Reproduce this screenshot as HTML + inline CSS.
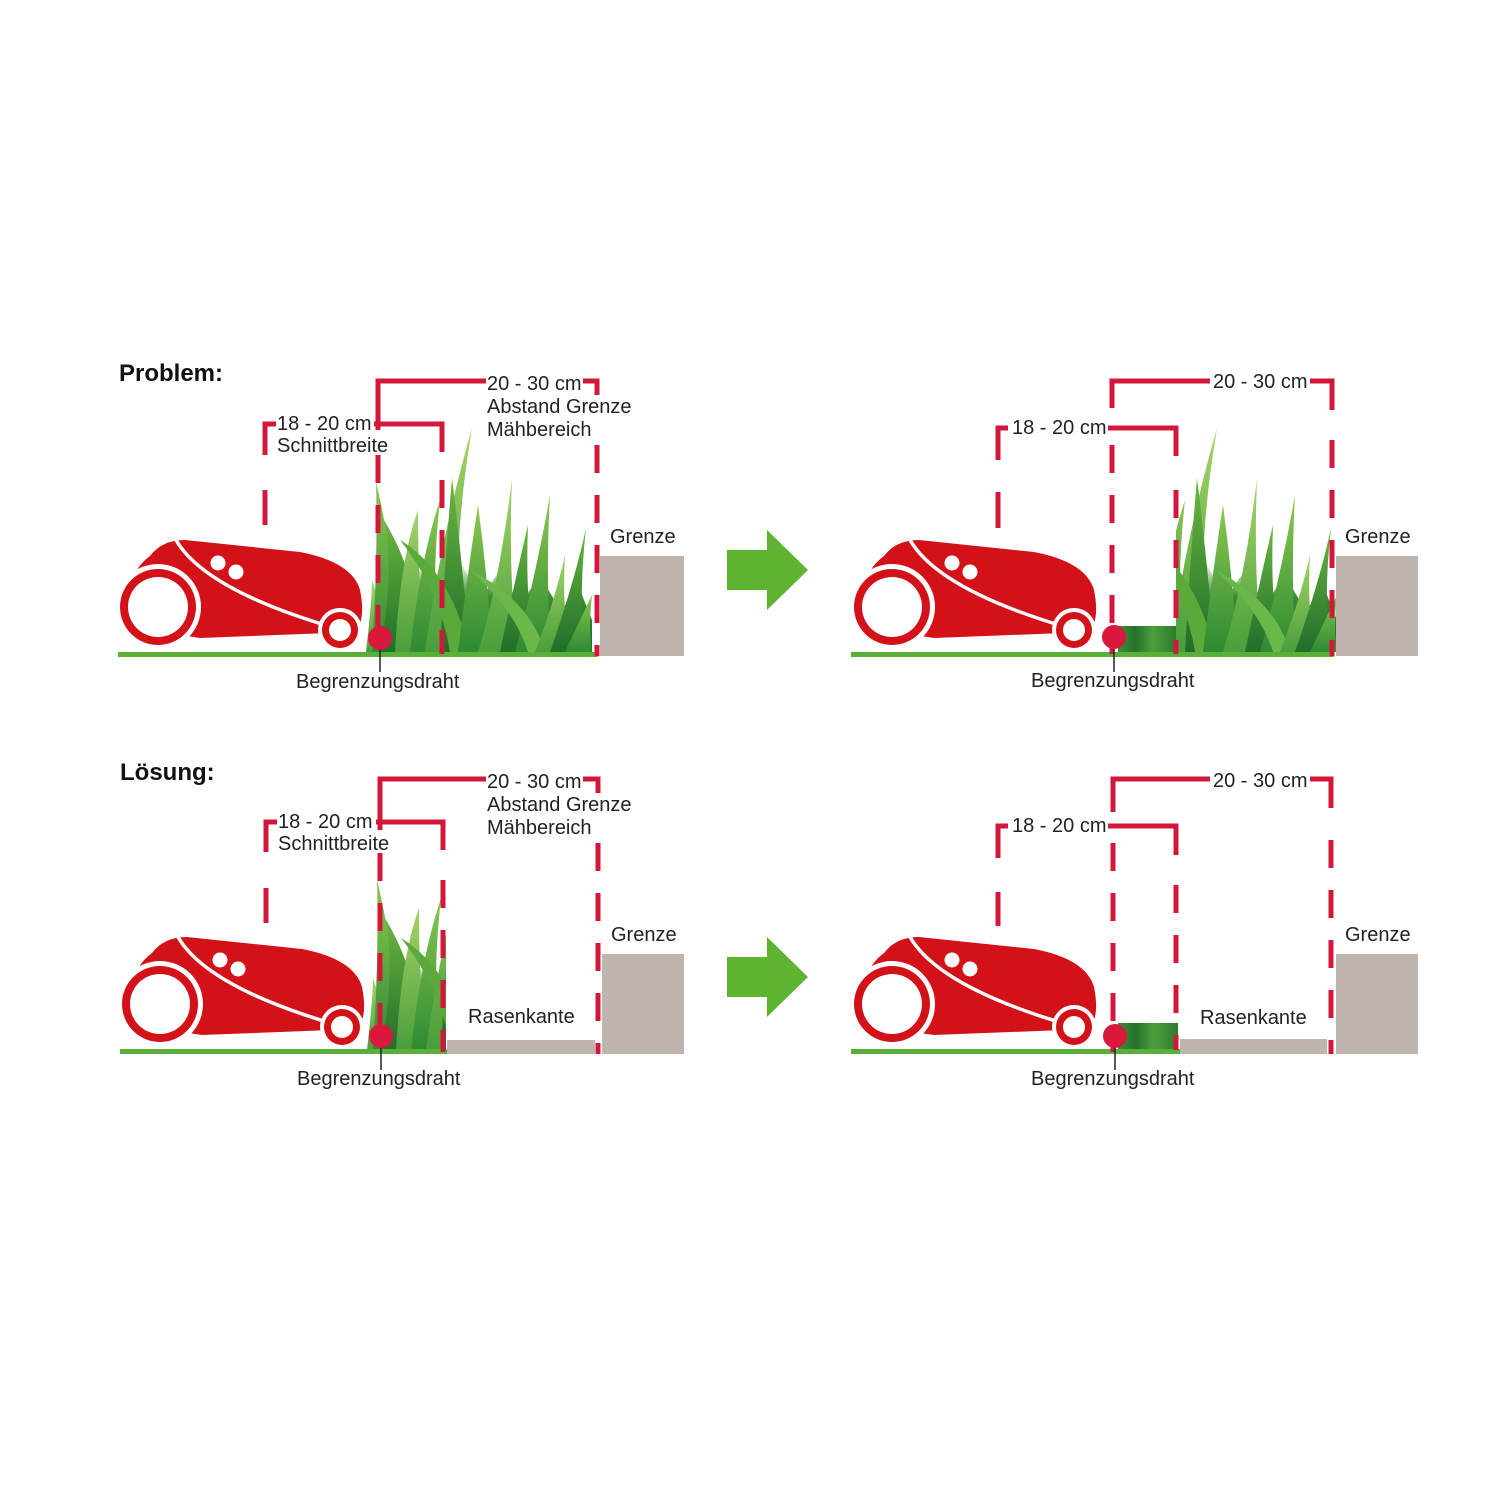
<!DOCTYPE html>
<html><head><meta charset="utf-8"><style>
html,body{margin:0;padding:0;background:#fff;}
svg{display:block;}
text{font-family:"Liberation Sans",sans-serif;font-size:20px;fill:#222;}
.t{font-weight:bold;font-size:24px;fill:#111;}
</style></head><body>
<svg width="1500" height="1500" viewBox="0 0 1500 1500" xmlns="http://www.w3.org/2000/svg">
<defs>
<linearGradient id="gA" x1="0" y1="0" x2="0" y2="1"><stop offset="0" stop-color="#8cc850"/><stop offset="1" stop-color="#2e8a32"/></linearGradient>
<linearGradient id="gB" x1="0" y1="0" x2="0" y2="1"><stop offset="0" stop-color="#6bb640"/><stop offset="1" stop-color="#1f6e2a"/></linearGradient>
<linearGradient id="gC" x1="0" y1="0" x2="0" y2="1"><stop offset="0" stop-color="#a6d468"/><stop offset="1" stop-color="#4a9e3a"/></linearGradient>
<linearGradient id="gD" x1="0" y1="0" x2="0" y2="1"><stop offset="0" stop-color="#4a9e3a" stop-opacity="0"/><stop offset="0.4" stop-color="#3a8a34"/><stop offset="1" stop-color="#236b2a"/></linearGradient>
<linearGradient id="gS" x1="0" y1="0" x2="1" y2="0"><stop offset="0" stop-color="#3d8f35"/><stop offset="0.3" stop-color="#27712b"/><stop offset="0.6" stop-color="#4c9e3c"/><stop offset="1" stop-color="#2a7a2e"/></linearGradient>
<g id="mower">
<path d="M150,556 Q162,540 185,540 L300,552 Q352,562 360,590 Q366,620 355,632 L200,638 Q150,632 132,600 Q128,572 150,556 Z" fill="#d31118"/>
<path d="M176,540 Q205,590 335,628" stroke="#fff" stroke-width="3.5" fill="none"/>
<circle cx="218" cy="563" r="7.5" fill="#fff"/>
<circle cx="236" cy="572" r="7.5" fill="#fff"/>
<circle cx="158" cy="607" r="43" fill="#fff"/>
<circle cx="158" cy="607" r="38" fill="#d31118"/>
<circle cx="158" cy="607" r="30" fill="#fff"/>
<circle cx="340" cy="630" r="22" fill="#fff"/>
<circle cx="340" cy="630" r="18" fill="#d31118"/>
<circle cx="340" cy="630" r="11" fill="#fff"/>
</g>
<g id="grass">
<path d="M370,652 L370,620 L385,580 L400,610 L420,570 L440,600 L460,560 L480,600 L500,570 L520,605 L540,575 L560,610 L580,590 L592,620 L592,652Z" fill="url(#gD)"/>
<path d="M366,652 Q372,600 372,580 Q385,620 392,652Z" fill="url(#gC)"/>
<path d="M372,652 Q378,560 376,482 Q395,560 398,652Z" fill="url(#gA)"/>
<path d="M380,652 Q395,570 384,520 Q420,580 420,652Z" fill="url(#gB)"/>
<path d="M395,652 Q400,560 418,510 Q418,590 425,652Z" fill="url(#gC)"/>
<path d="M410,652 Q420,560 440,500 Q430,590 440,652Z" fill="url(#gA)"/>
<path d="M425,652 Q440,540 472,428 Q450,560 462,652Z" fill="url(#gC)"/>
<path d="M440,652 Q445,560 452,478 Q462,560 470,652Z" fill="url(#gB)"/>
<path d="M400,540 Q450,570 470,652 L450,652 Q440,590 400,540Z" fill="#5aa93a"/>
<path d="M458,652 Q468,570 478,505 Q488,580 492,652Z" fill="url(#gA)"/>
<path d="M478,652 Q500,580 512,478 Q508,580 518,652Z" fill="url(#gC)"/>
<path d="M500,652 Q515,580 528,525 Q525,600 535,652Z" fill="url(#gB)"/>
<path d="M515,652 Q535,580 550,495 Q545,590 552,652Z" fill="url(#gA)"/>
<path d="M470,570 Q530,600 545,652 L528,652 Q515,610 470,570Z" fill="#6ab84a"/>
<path d="M535,652 Q555,600 565,555 Q562,610 570,652Z" fill="url(#gC)"/>
<path d="M550,652 Q575,580 586,528 Q578,600 585,652Z" fill="url(#gB)"/>
<path d="M565,652 Q580,620 592,595 Q588,630 592,652Z" fill="url(#gA)"/>
</g>
<g id="arrow"><path d="M727,550 L767,550 L767,530 L808,570 L767,610 L767,590 L727,590 Z" fill="#5fb331"/></g>
<clipPath id="cTR"><rect x="1176" y="400" width="160" height="260"/></clipPath>
<clipPath id="cBL"><rect x="366" y="800" width="80" height="260"/></clipPath>
</defs>

<text class="t" x="119" y="381">Problem:</text>
<text class="t" x="120" y="780">Lösung:</text>

<!-- TL -->
<use href="#grass"/>
<rect x="118" y="652" width="480" height="5" fill="#5aae3a"/>
<use href="#mower"/>
<rect x="600" y="556" width="84" height="100" fill="#c0b5ae"/>
<g stroke="#d3173a" stroke-width="5" fill="none">
<path d="M265,455 L265,424 L276,424 M374,424 L442,424 L442,452"/>
<path d="M265,490 L265,525"/>
<path d="M442,480 L442,654" stroke-dasharray="28 22"/>
<path d="M378,430 L378,381 L486,381 M583,381 L597,381 L597,395"/>
<path d="M378,455 L378,654" stroke-dasharray="28 22"/>
<path d="M597,445 L597,656" stroke-dasharray="28 22"/>
</g>
<line x1="380" y1="640" x2="380" y2="672" stroke="#222" stroke-width="1.5"/>
<circle cx="380" cy="638" r="12" fill="#d9183b"/>
<text x="487" y="390">20 - 30 cm</text>
<text x="487" y="413">Abstand Grenze</text>
<text x="487" y="436">Mähbereich</text>
<text x="277" y="430">18 - 20 cm</text>
<text x="277" y="452">Schnittbreite</text>
<text x="610" y="543">Grenze</text>
<text x="296" y="688">Begrenzungsdraht</text>

<use href="#arrow"/>
<use href="#arrow" transform="translate(0,407)"/>

<!-- TR -->
<g clip-path="url(#cTR)"><use href="#grass" transform="translate(745,0)"/></g>
<rect x="1118" y="626" width="58" height="26" fill="url(#gS)"/>
<rect x="851" y="652" width="483" height="5" fill="#5aae3a"/>
<use href="#mower" transform="translate(734,0)"/>
<rect x="1336" y="556" width="82" height="100" fill="#c0b5ae"/>
<g stroke="#d3173a" stroke-width="5" fill="none">
<path d="M998,460 L998,428 L1008,428 M1108,428 L1176,428 L1176,456"/>
<path d="M998,492 L998,528"/>
<path d="M1176,490 L1176,654" stroke-dasharray="28 22"/>
<path d="M1112,408 L1112,381 L1210,381 M1310,381 L1332,381 L1332,410"/>
<path d="M1112,445 L1112,654" stroke-dasharray="28 22"/>
<path d="M1332,440 L1332,656" stroke-dasharray="28 22"/>
</g>
<line x1="1114" y1="640" x2="1114" y2="672" stroke="#222" stroke-width="1.5"/>
<circle cx="1114" cy="637" r="12" fill="#d9183b"/>
<text x="1213" y="388">20 - 30 cm</text>
<text x="1012" y="434">18 - 20 cm</text>
<text x="1345" y="543">Grenze</text>
<text x="1031" y="687">Begrenzungsdraht</text>

<!-- BL -->
<g clip-path="url(#cBL)"><use href="#grass" transform="translate(1,398)"/></g>
<rect x="120" y="1049" width="327" height="5" fill="#5aae3a"/>
<rect x="447" y="1040" width="148" height="14" fill="#c0b5ae"/>
<use href="#mower" transform="translate(2,397)"/>
<rect x="602" y="954" width="82" height="100" fill="#c0b5ae"/>
<g stroke="#d3173a" stroke-width="5" fill="none">
<path d="M266,852 L266,822 L277,822 M376,822 L443,822 L443,850"/>
<path d="M266,888 L266,923"/>
<path d="M443,880 L443,1052" stroke-dasharray="28 22"/>
<path d="M380,830 L380,779 L486,779 M583,779 L598,779 L598,793"/>
<path d="M380,853 L380,1052" stroke-dasharray="28 22"/>
<path d="M598,843 L598,1054" stroke-dasharray="28 22"/>
</g>
<line x1="381" y1="1038" x2="381" y2="1070" stroke="#222" stroke-width="1.5"/>
<circle cx="381" cy="1036" r="12" fill="#d9183b"/>
<text x="487" y="788">20 - 30 cm</text>
<text x="487" y="811">Abstand Grenze</text>
<text x="487" y="834">Mähbereich</text>
<text x="278" y="828">18 - 20 cm</text>
<text x="278" y="850">Schnittbreite</text>
<text x="611" y="941">Grenze</text>
<text x="468" y="1023">Rasenkante</text>
<text x="297" y="1085">Begrenzungsdraht</text>

<!-- BR -->
<rect x="1118" y="1023" width="60" height="27" fill="url(#gS)"/>
<rect x="851" y="1049" width="329" height="5" fill="#5aae3a"/>
<rect x="1180" y="1039" width="147" height="15" fill="#c0b5ae"/>
<use href="#mower" transform="translate(734,397)"/>
<rect x="1336" y="954" width="82" height="100" fill="#c0b5ae"/>
<g stroke="#d3173a" stroke-width="5" fill="none">
<path d="M998,858 L998,826 L1008,826 M1108,826 L1176,826 L1176,855"/>
<path d="M998,892 L998,926"/>
<path d="M1176,885 L1176,1050" stroke-dasharray="28 22"/>
<path d="M1113,812 L1113,779 L1210,779 M1310,779 L1331,779 L1331,808"/>
<path d="M1113,843 L1113,1052" stroke-dasharray="28 22"/>
<path d="M1331,840 L1331,1054" stroke-dasharray="28 22"/>
</g>
<line x1="1115" y1="1038" x2="1115" y2="1070" stroke="#222" stroke-width="1.5"/>
<circle cx="1115" cy="1036" r="12" fill="#d9183b"/>
<text x="1213" y="787">20 - 30 cm</text>
<text x="1012" y="832">18 - 20 cm</text>
<text x="1345" y="941">Grenze</text>
<text x="1200" y="1024">Rasenkante</text>
<text x="1031" y="1085">Begrenzungsdraht</text>
</svg>
</body></html>
